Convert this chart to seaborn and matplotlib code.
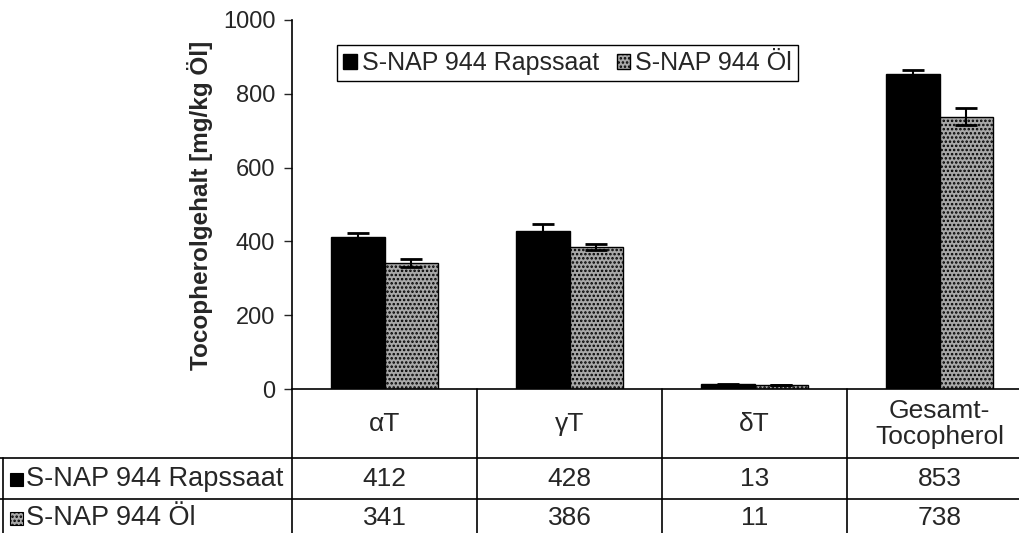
import pandas as pd
import matplotlib.pyplot as plt
import matplotlib.patches as mpatches
from matplotlib.lines import Line2D
from matplotlib.transforms import blended_transform_factory
import seaborn as sns

# Data
komponenten = ["αT", "γT", "δT", "Gesamt-\nTocopherol"]
proben = ["S-NAP 944 Rapssaat", "S-NAP 944 Öl"]
rapssaat = [412, 428, 13, 853]
oel = [341, 386, 11, 738]
rapssaat_err = [12, 18, 1, 12]
oel_err = [10, 8, 1, 23]

# Style
sns.set_style("white")
plt.rcParams["font.family"] = ["Liberation Sans", "DejaVu Sans"]
plt.rcParams["hatch.linewidth"] = 1.2
FS_TICK = 17
FS_LEG = 18
FS_TAB = 19
GRAU = "#a8a8a8"
HATCH = "...."

W, H = 1019, 533
fig = plt.figure(figsize=(W / 100, H / 100), dpi=100)
ax = fig.add_axes([292 / W, (H - 389) / H, 740 / W, 369 / H])

df = pd.DataFrame({
    "Komponente": komponenten * 2,
    "Probe": [proben[0]] * len(rapssaat) + [proben[1]] * len(oel),
    "Wert": rapssaat + oel,
})

sns.barplot(data=df, x="Komponente", y="Wert", hue="Probe",
            palette=["black", GRAU], saturation=1, width=0.575, gap=0,
            edgecolor="black", linewidth=1, errorbar=None, legend=False, ax=ax)

for bar in ax.containers[1]:
    bar.set_hatch(HATCH)

# error bars
for cont, errs in zip(ax.containers, [rapssaat_err, oel_err]):
    xs = [b.get_x() + b.get_width() / 2 for b in cont]
    ys = [b.get_height() for b in cont]
    ax.errorbar(xs, ys, yerr=errs, fmt="none", ecolor="black",
                elinewidth=1.5, capsize=8, capthick=2)

ax.set_xlim(-0.5, 3.5)
ax.set_ylim(0, 1000)
ax.set_yticks(range(0, 1001, 200))
ax.set_xticks([])
ax.set_xlabel("")
ax.set_ylabel("")
ax.tick_params(axis="y", left=True, direction="out", length=6, width=1,
               labelsize=FS_TICK, pad=6)
sns.despine(ax=ax, top=True, right=True)
for s in ["left", "bottom"]:
    ax.spines[s].set_color("black")
    ax.spines[s].set_linewidth(1.2)

fig.text(200 / W, 1 - 205 / H, "Tocopherolgehalt [mg/kg Öl]", rotation=90,
         fontsize=17.5, fontweight="bold", ha="center", va="center")

# Legend
handles = [mpatches.Patch(facecolor="black", edgecolor="black"),
           mpatches.Patch(facecolor=GRAU, edgecolor="black", hatch=HATCH)]
fig.legend(handles, proben, loc="upper left", bbox_to_anchor=(337 / W, 1 - 45 / H),
           ncol=2, fontsize=FS_LEG, frameon=True, fancybox=False, edgecolor="black",
           framealpha=1, handlelength=0.55, handleheight=0.55, handletextpad=0.2,
           columnspacing=0.7, borderpad=0.25, borderaxespad=0)

# ------------------------------------
# Data table below the axis
# ------------------------------------
def fy(py):
    return 1 - py / H

tr = blended_transform_factory(ax.transData, fig.transFigure)
lw = 1.2

for xb in [-0.5, 0.5, 1.5, 2.5]:
    ax.plot([xb, xb], [fy(389), fy(545)], transform=tr, clip_on=False,
            color="black", lw=lw)
for py in [458, 499]:
    fig.add_artist(Line2D([0, 1], [fy(py), fy(py)], color="black", lw=lw))
fig.add_artist(Line2D([2.5 / W, 2.5 / W], [fy(458), fy(545)], color="black", lw=lw))

for i, k in enumerate(komponenten):
    ax.text(i, fy(424), k, transform=tr, ha="center", va="center", fontsize=FS_TAB,
            linespacing=1.15)
    ax.text(i, fy(479), str(rapssaat[i]), transform=tr, ha="center", va="center",
            fontsize=FS_TAB)
    ax.text(i, fy(518), str(oel[i]), transform=tr, ha="center", va="center",
            fontsize=FS_TAB)

for py, name, fc, h in [(479, proben[0], "black", None), (518, proben[1], GRAU, HATCH)]:
    fig.add_artist(mpatches.Rectangle((10 / W, fy(py + 7)), 13 / W, 13 / H,
                                      facecolor=fc, edgecolor="black", lw=0.8,
                                      hatch=h, transform=fig.transFigure))
    fig.text(26 / W, fy(py), name, fontsize=19.5, ha="left", va="center")

fig.savefig("out.png", dpi=100)
